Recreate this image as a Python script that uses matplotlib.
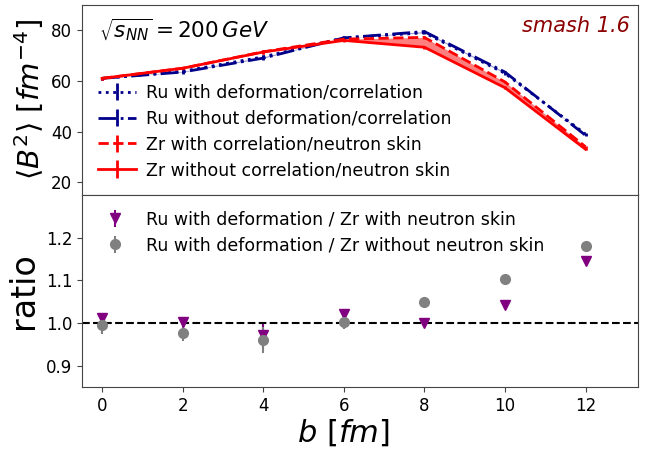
import numpy as np
import matplotlib
matplotlib.use("Agg")
import matplotlib.pyplot as plt

# impact parameter
b = np.array([0, 2, 4, 6, 8, 10, 12])

# <B^2> in fm^-4
ru_def = np.array([61.0, 63.8, 69.5, 77.0, 79.0, 63.0, 39.0])
ru_nodef = np.array([61.0, 63.5, 69.0, 77.0, 79.5, 63.5, 38.5])
zr_corr = np.array([61.0, 65.0, 71.5, 76.5, 77.2, 59.6, 34.0])
zr_nocorr = np.array([61.0, 65.0, 71.4, 76.0, 73.3, 57.3, 33.0])
err_b2 = np.array([0.6, 0.6, 0.7, 0.7, 0.6, 0.5, 0.4])

# ratios
ratio_skin = np.array([1.012, 1.002, 0.972, 1.020, 1.000, 1.042, 1.145])
ratio_skin_err = np.array([0.012, 0.012, 0.030, 0.010, 0.008, 0.008, 0.006])
ratio_noskin = np.array([0.995, 0.976, 0.960, 1.002, 1.050, 1.103, 1.180])
ratio_noskin_err = np.array([0.020, 0.018, 0.030, 0.015, 0.010, 0.010, 0.006])

plt.rcParams["axes.edgecolor"] = "#444444"
plt.rcParams["xtick.color"] = "#444444"
plt.rcParams["ytick.color"] = "#444444"
plt.rcParams["xtick.labelcolor"] = "black"
plt.rcParams["ytick.labelcolor"] = "black"

fig = plt.figure(figsize=(6.45, 4.5), dpi=100)
ax1 = fig.add_axes([0.127, 0.567, 0.862, 0.422])
ax2 = fig.add_axes([0.127, 0.140, 0.862, 0.427], sharex=ax1)

ax1.errorbar(b, ru_def, yerr=err_b2, color="darkblue", linestyle=":", lw=2,
             label="Ru with deformation/correlation")
ax1.errorbar(b, ru_nodef, yerr=err_b2, color="darkblue", linestyle="-.", lw=2,
             label="Ru without deformation/correlation")
ax1.errorbar(b, zr_corr, yerr=err_b2, color="red", linestyle="--", lw=2,
             label="Zr with correlation/neutron skin")
ax1.errorbar(b, zr_nocorr, yerr=err_b2, color="red", linestyle="-", lw=2,
             label="Zr without correlation/neutron skin")
ax1.fill_between(b, ru_def, ru_nodef, color="darkblue", alpha=0.4, lw=0)
ax1.fill_between(b, zr_corr, zr_nocorr, color="red", alpha=0.5, lw=0)

ax1.set_ylim(15, 90)
ax1.set_yticks([20, 40, 60, 80])
ax1.set_ylabel(r"$\langle B^2\rangle\ [fm^{-4}]$", fontsize=21)
ax1.tick_params(labelsize=12, labelbottom=False)
ax1.text(0.03, 0.94, r"$\sqrt{s_{NN}}=200\,GeV$", transform=ax1.transAxes,
         fontsize=15.5, va="top")
ax1.text(0.985, 0.94, "smash 1.6", transform=ax1.transAxes, fontsize=15,
         style="italic", color="darkred", ha="right", va="top")
ax1.legend(loc="lower left", bbox_to_anchor=(0.0, 0.0), frameon=False,
           fontsize=12.5, handlelength=2.2, handletextpad=0.6,
           labelspacing=0.45)

ax2.errorbar(b, ratio_skin, yerr=ratio_skin_err, fmt="v", color="purple",
             ms=7, label="Ru with deformation / Zr with neutron skin")
ax2.errorbar(b, ratio_noskin, yerr=ratio_noskin_err, fmt="o", color="gray",
             ms=7, label="Ru with deformation / Zr without neutron skin")
ax2.axhline(1.0, color="black", linestyle="--", lw=1.5)
ax2.set_ylim(0.85, 1.3)
ax2.set_yticks([0.9, 1.0, 1.1, 1.2])
ax2.set_xlim(-0.5, 13.3)
ax2.set_xticks([0, 2, 4, 6, 8, 10, 12])
ax2.set_ylabel("ratio", fontsize=24)
ax2.set_xlabel(r"$b\ [fm]$", fontsize=22)
ax2.xaxis.set_label_coords(0.47, -0.16)
ax2.tick_params(labelsize=12)
ax2.legend(loc="upper left", frameon=False, fontsize=12.5, labelspacing=0.45)

fig.align_ylabels([ax1, ax2])
fig.savefig("out.png", dpi=100)
